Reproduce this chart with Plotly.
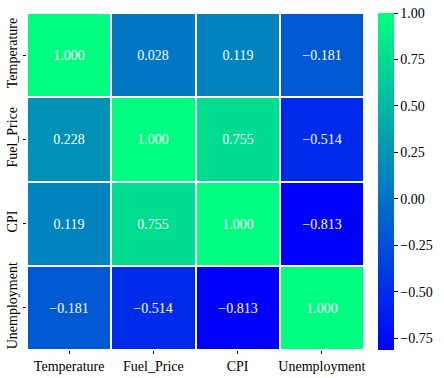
import plotly.graph_objects as go

labels = ["Temperature", "Fuel_Price", "CPI", "Unemployment"]
row_temperature = [1.000, 0.028, 0.119, -0.181]
row_fuel = [0.228, 1.000, 0.755, -0.514]
row_cpi = [0.119, 0.755, 1.000, -0.813]
row_unemp = [-0.181, -0.514, -0.813, 1.000]
z = [row_temperature, row_fuel, row_cpi, row_unemp]

cb_vals = [1.0, 0.75, 0.5, 0.25, 0.0, -0.25, -0.5, -0.75]


def fmt(v, d):
    s = f"{v:.{d}f}"
    return s.replace("-", "\u2212")


text = [[fmt(v, 3) for v in row] for row in z]
zmin = min(min(r) for r in z)
zmax = max(max(r) for r in z)

fig = go.Figure(go.Heatmap(
    z=z, x=labels, y=labels,
    text=text, texttemplate="%{text}",
    textfont=dict(family="Liberation Serif", size=14, color="white"),
    colorscale=[[0, "rgb(0,0,255)"], [1, "rgb(0,255,128)"]],
    zmin=zmin, zmax=zmax,
    xgap=2, ygap=2,
    colorbar=dict(
        x=1.0415, xanchor="left", xpad=0, ypad=0,
        y=0.5, yanchor="middle", len=1, lenmode="fraction",
        thickness=16, outlinewidth=0,
        tickvals=cb_vals, ticktext=[fmt(v, 2) for v in cb_vals],
        ticks="outside", ticklen=4, tickcolor="black",
        tickfont=dict(family="Liberation Serif", size=14, color="black"),
    ),
))

fig.update_layout(
    width=444, height=378,
    margin=dict(l=27, r=80, t=13, b=28, autoexpand=False),
    paper_bgcolor="white", plot_bgcolor="white",
    font=dict(family="Liberation Serif", size=14, color="black"),
)
fig.update_xaxes(showgrid=False, zeroline=False, ticks="outside", ticklen=3,
                 tickcolor="black", tickfont=dict(size=14), automargin=False)
fig.update_yaxes(showgrid=False, zeroline=False, autorange="reversed",
                 ticks="outside", ticklen=3, tickcolor="black",
                 tickangle=-90, tickfont=dict(size=14), automargin=False)

fig.write_html(
    "out.html",
    config={"displayModeBar": False},
    post_script="document.body.style.margin='0';document.body.style.overflow='hidden';",
)
